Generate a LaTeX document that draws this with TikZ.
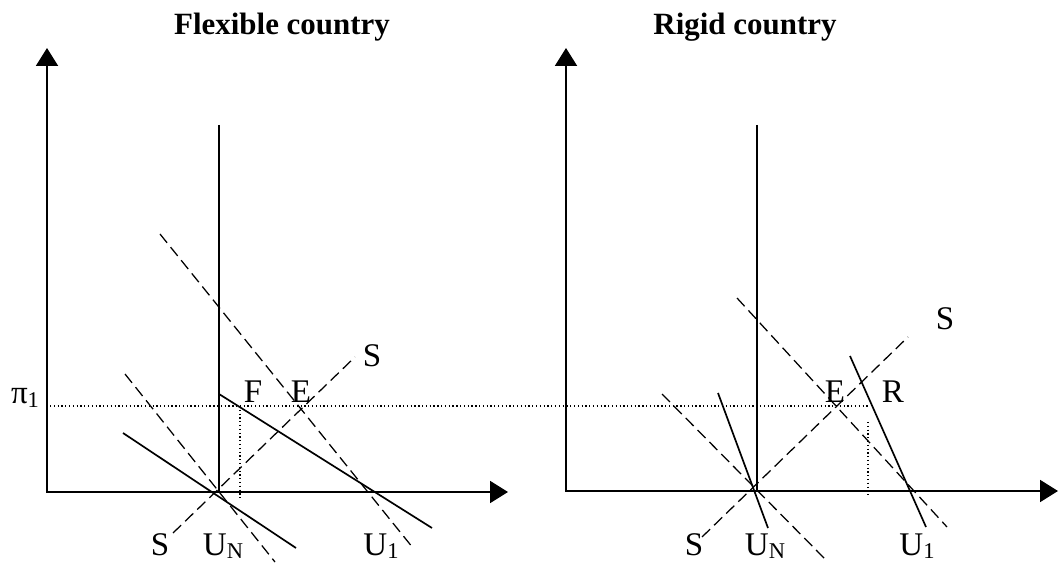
\documentclass[tikz,border=0pt]{standalone}
\usepackage{fontspec}
\setmainfont{Liberation Serif}
\usetikzlibrary{arrows.meta}
\newcommand\lowsub[1]{\raisebox{-0.1em}{\fontsize{16pt}{18pt}\selectfont #1}}
\tikzset{
  axes/.style={line width=1.4pt, {Triangle[length=0.45cm, width=0.55cm]}-{Triangle[length=0.45cm, width=0.55cm]}},
  natural/.style={line width=1.3pt},
  curve/.style={line width=1.2pt},
  dashcurve/.style={line width=0.9pt, dash pattern=on 8pt off 4pt},
  guide/.style={line width=0.9pt, dash pattern=on 0.9pt off 1.8pt},
  lbl/.style={font=\fontsize{23.5pt}{27pt}\selectfont, inner sep=0pt, anchor=base},
  heading/.style={font=\fontsize{22pt}{26pt}\selectfont\bfseries, inner sep=0pt, anchor=base},
}

\begin{document}
\begin{tikzpicture}[x=0.025cm, y=-0.025cm]
\useasboundingbox (0,0) rectangle (1059,563);

% flexible country
\coordinate (fy) at (47,48);
\coordinate (fo) at (47,492);
\coordinate (fx) at (508,492);
\coordinate (fntop) at (219,125);
\coordinate (fn) at (219,492);
\draw[axes] (fy) -- (fo) -- (fx);
\draw[natural] (fntop) -- (fn);

\coordinate (fad1a) at (219,394);  \coordinate (fad1b) at (432,528);
\coordinate (fad0a) at (123,433);  \coordinate (fad0b) at (296,548);
\coordinate (fsa) at (173,533);    \coordinate (fsb) at (355,357);
\coordinate (fd1a) at (160,234);   \coordinate (fd1b) at (413,548);
\coordinate (fd0a) at (125,374);   \coordinate (fd0b) at (275,562);
\draw[curve] (fad1a) -- (fad1b);
\draw[curve] (fad0a) -- (fad0b);
\draw[dashcurve] (fsa) -- (fsb);
\draw[dashcurve] (fd1a) -- (fd1b);
\draw[dashcurve] (fd0a) -- (fd0b);

\coordinate (fpa) at (240,406);  \coordinate (fpb) at (240,500);
\draw[guide] (fpa) -- (fpb);

\node[heading] (ftitle) at (282,35) {Flexible country};
\node[lbl] (fF) at (253,403) {F};
\node[lbl] (fE) at (301,403) {E};
\node[lbl] (fS1) at (372,367) {S};
\node[lbl] (fS0) at (160,555) {S};
\node[lbl] (fUN) at (223,555) {U\lowsub{N}};
\node[lbl] (fU1) at (381,555) {U\lowsub{1}};
\node[lbl] (pi) at (25,404) {π\lowsub{1}};

% rigid country
\coordinate (ry) at (566,48);
\coordinate (ro) at (566,491);
\coordinate (rx) at (1058,491);
\coordinate (rntop) at (757,125);
\coordinate (rn) at (757,491);
\draw[axes] (ry) -- (ro) -- (rx);
\draw[natural] (rntop) -- (rn);

\coordinate (rad0a) at (718,393);  \coordinate (rad0b) at (768,528);
\coordinate (rad1a) at (850,356);  \coordinate (rad1b) at (926,527);
\coordinate (rsa) at (702,537);    \coordinate (rsb) at (908,337);
\coordinate (rd1a) at (737,298);   \coordinate (rd1b) at (947,527);
\coordinate (rd0a) at (662,394);   \coordinate (rd0b) at (825,559);
\draw[curve] (rad0a) -- (rad0b);
\draw[curve] (rad1a) -- (rad1b);
\draw[dashcurve] (rsa) -- (rsb);
\draw[dashcurve] (rd1a) -- (rd1b);
\draw[dashcurve] (rd0a) -- (rd0b);

\coordinate (rpa) at (868,422);  \coordinate (rpb) at (868,495);
\draw[guide] (rpa) -- (rpb);

\node[heading] (rtitle) at (745,35) {Rigid country};
\node[lbl] (rE) at (835,403) {E};
\node[lbl] (rR) at (893,403) {R};
\node[lbl] (rS1) at (945,330) {S};
\node[lbl] (rS0) at (694,555) {S};
\node[lbl] (rUN) at (765,555) {U\lowsub{N}};
\node[lbl] (rU1) at (917,555) {U\lowsub{1}};

% inflation level pi_1 across both panels
\coordinate (pia) at (50,406);
\coordinate (pib) at (870,406);
\draw[guide] (pia) -- (pib);
\end{tikzpicture}
\end{document}
